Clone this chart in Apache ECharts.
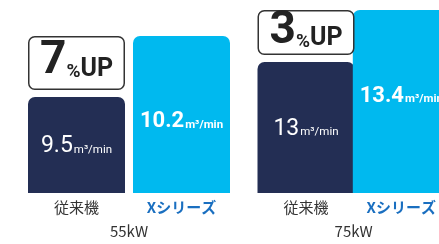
<!DOCTYPE html>
<html>
<head>
<meta charset="utf-8">
<script src="https://cdn.jsdelivr.net/npm/echarts@6/dist/echarts.min.js"></script>
<style>
  html, body { margin: 0; padding: 0; background: #fff; }
  #main { width: 439px; height: 244px; }
</style>
</head>
<body>
<div id="main"></div>
<script>
// 機種名（x軸）とグループ（出力）
const machines = ['従来機', 'Xシリーズ']
const groups = ['55kW', '75kW']

// 吐出空気量（ラベル用）
const oldFlow = ['9.5', '13']
const newFlow = ['10.2', '13.4']

// 図上の棒の高さ（0〜183の見た目の単位、値とは比例していない）
const oldHeight = [96, 131]
const newHeight = [157, 183]
const gapHeight = [7, 7]
const upHeight = [54, 45]
const upRate = ['7', '3']

const navy = '#232e54'
const cyan = '#00b9ef'
const fontNum = 'Roboto, sans-serif'
const fontJp = "'Noto Sans CJK JP', sans-serif"

const chart = echarts.init(document.getElementById('main'))

// boundaryGap: false なので棒の中心がグリッドの左右端にくる
const grids = [
  { left: 76.5, right: 257.5, top: 10, bottom: 51 },
  { left: 306, right: 28, top: 10, bottom: 51 },
]

const flowLabel = (flow, bold) => ({
  show: true,
  formatter: `{v|${flow}}{u|m³/min}`,
  rich: {
    v: {
      fontFamily: fontNum,
      fontSize: bold ? 22 : 23,
      fontWeight: bold ? 'bold' : 'normal',
      color: '#fff',
      verticalAlign: 'bottom',
      lineHeight: 26,
    },
    u: {
      fontFamily: fontNum,
      fontSize: 11.5,
      fontWeight: bold ? 'bold' : 'normal',
      color: '#fff',
      verticalAlign: 'bottom',
      lineHeight: 26,
      padding: [0, 0, 2, 1],
    },
  },
})

const upText = {
  fontFamily: fontNum,
  fontWeight: 'bold',
  color: '#222',
  verticalAlign: 'bottom',
  lineHeight: 44,
}

const series = []
groups.forEach((g, i) => {
  series.push({
    type: 'bar',
    xAxisIndex: i,
    yAxisIndex: i,
    stack: 'g' + i,
    barWidth: 97,
    clip: false,
    silent: true,
    data: [
      {
        value: oldHeight[i],
        itemStyle: { color: navy, borderRadius: [7, 7, 0, 0] },
        label: { ...flowLabel(oldFlow[i], false), position: 'inside' },
      },
      {
        value: newHeight[i],
        itemStyle: { color: cyan, borderRadius: [7, 7, 0, 0] },
        label: {
          ...flowLabel(newFlow[i], true),
          position: ['50%', 84],
          align: 'center',
          verticalAlign: 'middle',
        },
      },
    ],
  })
  series.push({
    type: 'bar',
    xAxisIndex: i,
    yAxisIndex: i,
    stack: 'g' + i,
    barWidth: 97,
    clip: false,
    silent: true,
    itemStyle: { color: 'rgba(0,0,0,0)' },
    data: [gapHeight[i], '-'],
  })
  series.push({
    type: 'bar',
    xAxisIndex: i,
    yAxisIndex: i,
    stack: 'g' + i,
    barWidth: 97,
    clip: false,
    silent: true,
    itemStyle: {
      color: '#fff',
      borderColor: '#333',
      borderWidth: 1.5,
      borderRadius: 6,
    },
    label: {
      show: true,
      position: 'inside',
      formatter: `{n|${upRate[i]}}{pc|%}{up|UP}`,
      rich: {
        n: { ...upText, fontSize: 46 },
        pc: { ...upText, fontSize: 19, padding: [0, 0, 3, 0] },
        up: { ...upText, fontSize: 25, padding: [0, 0, 3, 0] },
      },
    },
    data: [upHeight[i], '-'],
  })
})

const option = {
  animation: false,
  grid: grids,
  xAxis: groups.map((g, i) => ({
    type: 'category',
    gridIndex: i,
    data: machines,
    boundaryGap: false,
    name: g,
    nameLocation: 'middle',
    nameGap: 31,
    nameTextStyle: { fontFamily: fontJp, fontSize: 15, color: '#333' },
    axisLine: { show: false },
    axisTick: { show: false },
    splitLine: { show: false },
    axisLabel: {
      margin: 7,
      formatter: (v, idx) => (idx === 1 ? `{x|${v}}` : `{o|${v}}`),
      rich: {
        o: { fontFamily: fontJp, fontSize: 15, color: '#333' },
        x: { fontFamily: fontJp, fontSize: 15, fontWeight: 'bold', color: '#1a6fc0' },
      },
    },
  })),
  yAxis: groups.map((g, i) => ({
    type: 'value',
    gridIndex: i,
    min: 0,
    max: 183,
    show: false,
  })),
  series: series,
}

chart.setOption(option)
</script>
</body>
</html>
